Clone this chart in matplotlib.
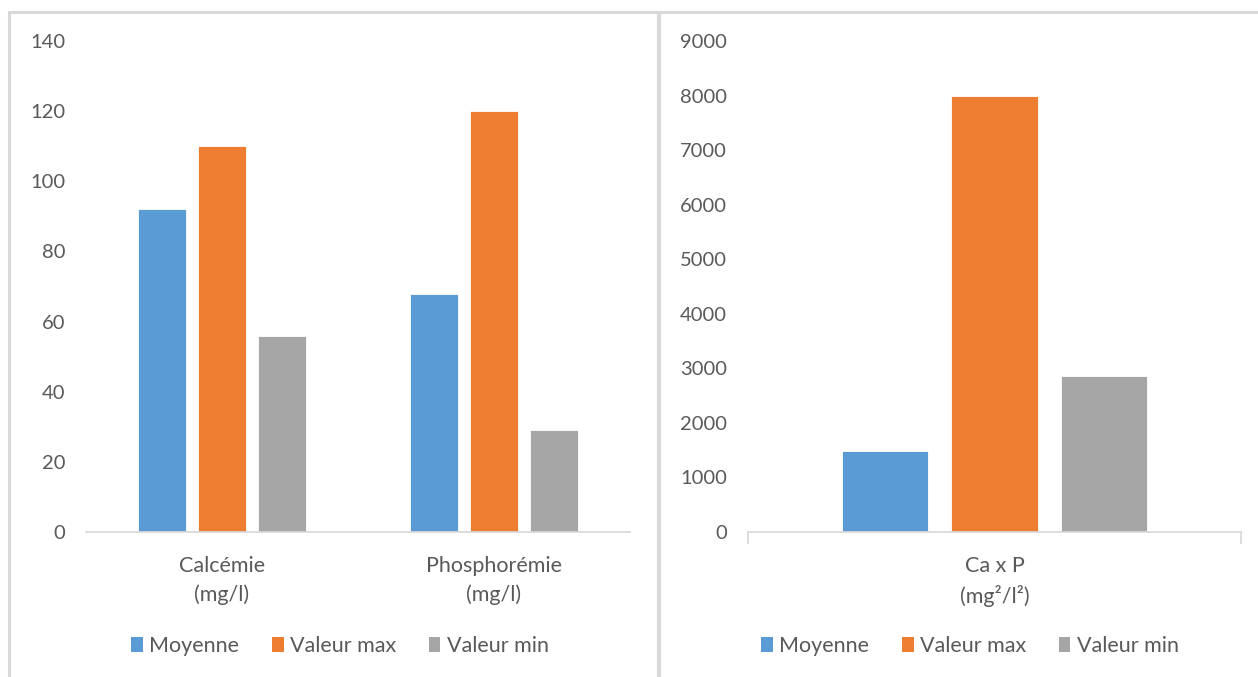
import numpy as np
import matplotlib.pyplot as plt
from matplotlib.patches import Rectangle, Patch

plt.rcParams['font.family'] = ['Lato', 'DejaVu Sans']

# data
series = ['Moyenne', 'Valeur max', 'Valeur min']
colors = ['#5B9BD5', '#ED7D31', '#A5A5A5']

left_categories = ['Calcémie\n(mg/l)', 'Phosphorémie\n(mg/l)']
left_moyenne = [92, 68]
left_max = [110, 120]
left_min = [56, 29]

right_categories = ['Ca x P\n(mg²/l²)']
right_moyenne = [1480]
right_max = [7990]
right_min = [2860]

TEXT = '#595959'
LINE = '#D9D9D9'
W, H = 1258, 677

fig = plt.figure(figsize=(W / 100, H / 100), dpi=100)
fig.patch.set_facecolor('white')


def fx(px):
    return px / W


def fy(py):
    return 1 - py / H


# panel borders
fig.add_artist(Rectangle((fx(9), fy(700)), fx(649), fy(12) - fy(700), transform=fig.transFigure,
                         fill=False, edgecolor=LINE, linewidth=2.2))
fig.add_artist(Rectangle((fx(659), fy(700)), fx(620), fy(12) - fy(700), transform=fig.transFigure,
                         fill=False, edgecolor=LINE, linewidth=2.2))


def draw_panel(ax, cats, values, ymax, ystep, ticks_out):
    x = np.arange(len(cats))
    width = 0.176
    step = 0.222
    for i, (vals, c) in enumerate(zip(values, colors)):
        ax.bar(x + (i - 1) * step, vals, width, color=c, edgecolor='white', linewidth=0.6, zorder=2)
    ax.set_xlim(-0.5, len(cats) - 0.5)
    ax.set_ylim(0, ymax)
    ax.set_yticks(np.arange(0, ymax + 1, ystep))
    ax.tick_params(axis='y', length=0, pad=15, labelsize=14.5, labelcolor=TEXT)
    ax.set_xticks(x)
    ax.set_xticklabels(cats, linespacing=1.5)
    ax.tick_params(axis='x', length=0, pad=17, labelsize=15.5, labelcolor=TEXT)
    for s in ['top', 'right', 'left']:
        ax.spines[s].set_visible(False)
    ax.spines['bottom'].set_color(LINE)
    ax.spines['bottom'].set_linewidth(1.3)
    if ticks_out:
        for xb in [-0.5, len(cats) - 0.5]:
            ax.plot([xb, xb], [0, -ymax * 0.022], color=LINE, linewidth=1.3,
                    clip_on=False, zorder=1)


ax1 = fig.add_axes([fx(86), fy(532), fx(630 - 86), fy(41) - fy(532)])
draw_panel(ax1, left_categories, [left_moyenne, left_max, left_min], 140, 20, False)

ax2 = fig.add_axes([fx(748), fy(532), fx(1241 - 748), fy(41) - fy(532)])
draw_panel(ax2, right_categories, [right_moyenne, right_max, right_min], 9000, 1000, True)

handles = [Patch(facecolor=c, edgecolor='none') for c in colors]
for xc in [fx(340), fx(970)]:
    fig.legend(handles, series, loc='center', bbox_to_anchor=(xc, fy(646)), ncol=3,
               frameon=False, fontsize=15.5, labelcolor=TEXT, handlelength=0.55, handleheight=0.75,
               handletextpad=0.3, columnspacing=1.5)

fig.savefig('out.png', dpi=100, facecolor='white')
